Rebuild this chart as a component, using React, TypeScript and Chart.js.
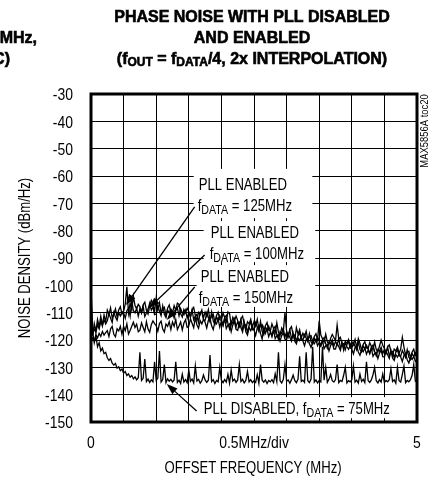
import React, { useEffect, useRef } from 'react';
import { Chart, registerables } from 'chart.js';

Chart.register(...registerables);

// ---- data ----
const FREQ_STEP_MHZ = 0.025; // sample spacing of the traces (MHz)
const X_MIN = 0;
const X_MAX = 5;
const X_STEP = 0.5;
const Y_MIN = -150;
const Y_MAX = -30;
const Y_STEP = 10;
const X_TICK_TEXT: Record<string, string> = { '0': '0', '2.5': '0.5MHz/div', '5': '5' };

const TITLE_LINE_1 = 'PHASE NOISE WITH PLL DISABLED';
const TITLE_LINE_2 = 'AND ENABLED';
const TITLE_LINE_3: [string, boolean][] = [['(f', false], ['OUT', true], [' = f', false], ['DATA', true], ['/4, 2x INTERPOLATION)', false]];
const NEIGHBOR_TEXT_1 = 'MHz,';
const NEIGHBOR_TEXT_2 = 'C)';
const X_TITLE = 'OFFSET FREQUENCY (MHz)';
const Y_TITLE = 'NOISE DENSITY (dBm/Hz)';
const SIDE_TAG = 'MAX5856A toc20';

// PLL disabled, fDATA = 75MHz
const PLL_DISABLED_75 = [
  -101, -117, -121, -118.5, -122.5, -121, -124, -123, -125, -124.5,
  -126.5, -127.5, -126.8, -128.5, -129.2, -128.6, -130.3, -129.8, -131.2, -130.6,
  -132.2, -131.5, -133, -132.4, -133.6, -133, -134.2, -133.5, -134.6, -133.8,
  -124.5, -134.8, -134, -127, -135.2, -134.3, -135.5, -134.6, -135.3, -128,
  -134.8, -133.9, -124, -135.4, -134.5, -129, -135.6, -134.2, -135.1, -134.4,
  -135.3, -134.6, -128, -135.5, -134.7, -135.9, -132.5, -135.4, -134.5, -135.6,
  -131, -135.1, -134.3, -135.7, -129.5, -135, -134.4, -135.8, -134.9, -132.8,
  -134.6, -135.5, -134.7, -125.5, -135.2, -134.5, -135.9, -134.8, -135.3, -130,
  -134.7, -135.6, -134.5, -135.4, -132.6, -135.8, -131, -135, -134.3, -135.5,
  -134.6, -129, -135.2, -134.4, -135.7, -134.8, -131.5, -135.3, -134.5, -135.6,
  -134.9, -135.5, -132.7, -135.8, -129, -134.7, -135.4, -134.6, -135.9, -134.8,
  -135.3, -134.5, -135.6, -132.4, -135.2, -124.5, -134.9, -135.7, -134.4, -129,
  -135.1, -134.6, -135.8, -134.5, -132.8, -134.8, -135.6, -134.4, -126, -135.2,
  -134.7, -135.5, -124.5, -134.9, -135.6, -134.3, -122.5, -135.4, -134.6, -135.7,
  -134.8, -135.3, -122.5, -134.7, -130, -135.5, -134.4, -132.6, -134.9, -135.4,
  -134.5, -129, -135.6, -134.8, -135.2, -132.9, -130, -135.7, -134.9, -135.3,
  -134.5, -129.5, -135.4, -134.7, -135.8, -132.5, -135.2, -134.4, -135.6, -128,
  -134.8, -135.5, -134.6, -132.7, -130, -134.9, -135.7, -134.5, -135.4, -132.4,
  -135.6, -134.8, -135.3, -134.5, -130.5, -135.2, -134.6, -135.8, -130, -134.9,
  -135.4, -132.6, -129.5, -135.6, -134.8, -135.3, -134.5, -132.9, -129, -135.1,
  -134.6,
];

// PLL enabled, fDATA = 125MHz
const PLL_ENABLED_125 = [
  -104, -118.5, -114, -116.8, -112.5, -115.2, -111.3, -114.6, -110.8, -113.4,
  -109.1, -110.7, -108.2, -111.9, -110.6, -108.6, -111.5, -109, -107.8, -110.6,
  -109.6, -106.9, -100.5, -110.2, -106.5, -109, -104, -107.4, -108.6, -107,
  -107.8, -109.9, -107.1, -106.2, -109.1, -110.5, -107.6, -105.5, -106.7, -109.6,
  -104.5, -108.9, -106.4, -110.1, -108.8, -108, -110.9, -108.4, -107.2, -110,
  -110.1, -107.4, -109.1, -106.5, -107, -110.4, -111.6, -108.8, -110, -108.4,
  -109.7, -111.8, -109, -108.1, -111, -112.8, -109.9, -110.7, -109, -111.9,
  -109.8, -111.4, -108.9, -112.6, -111.3, -110.6, -113.5, -111, -109.8, -112.6,
  -112.8, -110.1, -111.8, -113.4, -109.7, -110.3, -114.5, -111.7, -112.9, -111.3,
  -112.9, -115, -112.2, -111.3, -114.2, -116.2, -113.3, -114.1, -112.4, -115.3,
  -113.3, -114.9, -112.4, -116.1, -114.8, -114.4, -117.3, -114.8, -113.6, -116.4,
  -116.8, -114.1, -115.8, -117.4, -113.7, -117.2, -118.4, -115.6, -116.8, -110,
  -116.7, -118.8, -116, -115.1, -118, -120, -115.5, -117.9, -116.2, -119.1,
  -117.5, -118.8, -116.8, -119.8, -118.7, -118.4, -120.7, -118.7, -117.7, -120,
  -113, -118.2, -119.5, -120.8, -117.9, -120.7, -121.6, -119.4, -118, -119.1,
  -120.3, -114.5, -119.7, -119, -121.3, -122.9, -120.5, -121.2, -119.8, -122.1,
  -120.5, -121.8, -119.8, -122.8, -119.5, -121.3, -123.6, -121.6, -120.6, -122.9,
  -123.1, -121, -122.3, -123.6, -120.7, -123.5, -124.4, -122.2, -120, -121.9,
  -123.1, -124.8, -122.5, -121.8, -124.1, -125.7, -123.3, -124, -122.6, -124.9,
  -123.3, -119, -122.6, -125.6, -124.5, -124.1, -126.4, -124.4, -123.4, -125.7,
  -125.2,
];

// PLL enabled, fDATA = 100MHz
const PLL_ENABLED_100 = [
  -119, -117.8, -116, -117.2, -114.4, -115.9, -113.2, -114.8, -112.6, -114.1,
  -113, -110.3, -112, -113.6, -109.9, -111.6, -112.8, -110, -111.2, -109.6,
  -110, -112.1, -109.3, -108.4, -111.3, -105.5, -109.3, -110.1, -108.4, -111.3,
  -108.6, -110.2, -107.7, -111.4, -110.1, -108.7, -106.5, -109.1, -107.9, -110.7,
  -110.5, -107.8, -109.5, -111.1, -107.5, -110.6, -111.8, -109, -110.2, -108.6,
  -109.9, -112, -109.2, -108.3, -111.2, -108.5, -110, -110.8, -109.1, -112,
  -109.8, -111.4, -108.9, -112.6, -111.3, -110.6, -113.5, -109.8, -109.8, -112.6,
  -112.8, -110.1, -111.8, -113.4, -109.7, -113.1, -114.3, -111.5, -112.7, -111.1,
  -112.6, -114.7, -111.9, -111, -113.9, -116, -113.1, -113.9, -112.2, -115.1,
  -113.3, -114.9, -112.4, -116.1, -114.8, -114.3, -117.2, -114.7, -113.5, -116.3,
  -116.3, -113.6, -115.3, -116.9, -113.2, -116.9, -118.1, -115.3, -116.5, -114.9,
  -116.6, -118.7, -115.9, -115, -117.9, -119.8, -116.9, -117.7, -116, -118.9,
  -117.1, -118.4, -116.4, -119.4, -118.3, -118.1, -120.4, -118.4, -117.4, -119.7,
  -120.1, -118, -119.3, -120.6, -117.7, -120.6, -121.5, -119.3, -120.3, -119,
  -120.4, -122.1, -119.8, -119.1, -121.4, -123, -120.6, -121.3, -119.9, -122.2,
  -120.5, -121.8, -119.5, -122.8, -121.7, -121.3, -123.6, -121.6, -120.6, -122.9,
  -123.1, -121, -122.3, -123.6, -120.7, -123.5, -124.4, -122.2, -123.2, -121.9,
  -123.2, -124.9, -122.6, -121.9, -124.2, -125.8, -123.4, -124.1, -122.7, -125,
  -123.4, -124.7, -122.7, -125.7, -124.6, -124.2, -126.5, -124.5, -123.5, -125.8,
  -125.9, -123.8, -125.1, -126.4, -123.5, -126.3, -127.2, -125, -126, -124.7,
  -126.3,
];

// PLL enabled, fDATA = 150MHz
const PLL_ENABLED_150 = [
  -121, -119.3, -120.4, -118.1, -119.2, -117.6, -118.7, -116.9, -118.2, -117.3,
  -116.6, -118.7, -115.9, -115, -117.9, -118.8, -115.9, -116.7, -115, -117.9,
  -115, -116.6, -114.1, -117.8, -116.5, -115, -113.5, -115.4, -114.2, -117,
  -116.4, -113.7, -115.4, -117, -113.3, -116, -117.2, -114.4, -113, -114,
  -114.7, -116.8, -114, -113.1, -116, -117.1, -114.2, -115, -113.3, -116.2,
  -113.4, -115, -112.5, -116.2, -114.9, -113.4, -116.3, -113.8, -112.6, -115.4,
  -114.9, -112.2, -113.9, -115.5, -111.8, -114.5, -115.7, -112.9, -114.1, -112.5,
  -113.5, -115.6, -112.8, -111.9, -114.8, -116.2, -113.3, -114.1, -112.4, -115.3,
  -113, -114.6, -112.1, -115.8, -114.5, -114.1, -117, -114.5, -113.3, -116.1,
  -116.5, -113.8, -115.5, -117.1, -113.4, -117, -118.2, -115.4, -116.6, -115,
  -116.3, -118.4, -115.6, -114.7, -117.6, -119.7, -115.5, -117.6, -115.9, -118.8,
  -117.2, -118.5, -116.5, -119.5, -118.4, -118.1, -120.4, -118.4, -117.4, -119.7,
  -119.9, -117.8, -119.1, -120.4, -117.5, -120.4, -121.4, -119.2, -120.2, -118.9,
  -120.4, -122.1, -119.8, -119.1, -121.4, -122.7, -120.7, -121.4, -120, -122.1,
  -120.9, -122.2, -120.2, -123.2, -122.1, -121.7, -124, -122, -121, -123.3,
  -123.3, -121.2, -122.5, -123.8, -120.9, -123.7, -121, -122.4, -123.4, -122.1,
  -123.4, -125.1, -122.8, -122.1, -124.4, -125.6, -123.6, -124.3, -122.9, -125.2,
  -123.7, -125, -123, -126, -124.9, -124.5, -126.8, -124.8, -123.8, -126.1,
  -126.2, -124.1, -125.4, -126.7, -123.8, -126.6, -127.5, -125.3, -126.3, -125,
  -126.2, -127.9, -125.6, -124.9, -127.2, -128.4, -126.5, -127.1, -126, -127.8,
  -127.3,
];

// annotation text [f(MHz), dB] anchor (left, baseline) and parts [text, isSubscript]
const LABELS: { at: [number, number]; parts: [string, boolean][] }[] = [
  { at: [1.651, -65.3], parts: [['PLL ENABLED', false]] },
  { at: [1.636, -72.8], parts: [['f', false], ['DATA', true], [' = 125MHz', false]] },
  { at: [1.835, -82.7], parts: [['PLL ENABLED', false]] },
  { at: [1.82, -90.4], parts: [['f', false], ['DATA', true], [' = 100MHz', false]] },
  { at: [1.682, -98.8], parts: [['PLL ENABLED', false]] },
  { at: [1.651, -106.5], parts: [['f', false], ['DATA', true], [' = 150MHz', false]] },
  { at: [1.728, -147.1], parts: [['PLL DISABLED, f', false], ['DATA', true], [' = 75MHz', false]] },
];
// white label backgrounds [f0, f1, dB0, dB1]
const KNOCKOUTS: [number, number, number, number][] = [
  [1.575, 3.394, -57.4, -75.4],
  [1.728, 3.44, -76.5, -91.5],
  [1.621, 3.44, -92.6, -107.9],
  [1.682, 4.832, -140.9, -148.6],
];
// arrows [fromF, fromDb, toF, toDb]
const ARROWS: [number, number, number, number][] = [
  [1.59, -71.3, 0.535, -107.2],
  [1.743, -88.9, 0.887, -108.3],
  [1.59, -100.6, 1.162, -112.7],
  [1.62, -146, 1.162, -136.1],
];

const SANS = '"Liberation Sans", Arial, sans-serif';
const NARROW_SCALE = 0.82; // horizontal squeeze to mimic a narrow face

function toPoints(values: number[]) {
  return values.map((v, i) => ({ x: i * FREQ_STEP_MHZ, y: v }));
}

function narrowText(ctx: CanvasRenderingContext2D, text: string, x: number, y: number, size: number, align: CanvasTextAlign, baseline: CanvasTextBaseline, rotate = 0) {
  ctx.save();
  ctx.translate(x, y);
  if (rotate) ctx.rotate(rotate);
  ctx.scale(NARROW_SCALE, 1);
  ctx.font = `${size}px ${SANS}`;
  ctx.textAlign = align;
  ctx.textBaseline = baseline;
  ctx.fillText(text, 0, 0);
  ctx.restore();
}

function drawRich(ctx: CanvasRenderingContext2D, x: number, y: number, parts: [string, boolean][], main: string, sub: string, subDy: number, align: 'left' | 'center', bold: boolean, squeeze: number) {
  ctx.save();
  ctx.translate(x, y);
  ctx.scale(squeeze, 1);
  let total = 0;
  for (const [t, s] of parts) {
    ctx.font = s ? sub : main;
    total += ctx.measureText(t).width;
  }
  let cx = align === 'center' ? -total / 2 : 0;
  ctx.textAlign = 'left';
  ctx.textBaseline = 'alphabetic';
  for (const [t, s] of parts) {
    ctx.font = s ? sub : main;
    const yy = s ? subDy : 0;
    ctx.fillText(t, cx, yy);
    if (bold) ctx.strokeText(t, cx, yy);
    cx += ctx.measureText(t).width;
  }
  ctx.restore();
}

const decorPlugin = {
  id: 'decor',
  beforeDatasetsDraw(chart: any) {
    const { ctx, scales } = chart;
    const xs = scales.x, ys = scales.y;
    ctx.save();
    ctx.fillStyle = '#fff';
    for (const [f0, f1, d0, d1] of KNOCKOUTS) {
      const x0 = xs.getPixelForValue(f0), x1 = xs.getPixelForValue(f1);
      const y0 = ys.getPixelForValue(d0), y1 = ys.getPixelForValue(d1);
      ctx.fillRect(x0, y0, x1 - x0, y1 - y0);
    }
    ctx.restore();
  },
  afterDatasetsDraw(chart: any) {
    const { ctx, scales, chartArea } = chart;
    const xs = scales.x, ys = scales.y;
    ctx.save();
    // frame
    ctx.strokeStyle = '#000';
    ctx.lineWidth = 3;
    ctx.strokeRect(chartArea.left, chartArea.top, chartArea.right - chartArea.left, chartArea.bottom - chartArea.top);
    ctx.fillStyle = '#000';
    // tick labels from the scales
    for (const t of ys.ticks) {
      narrowText(ctx, String(t.value), chartArea.left - 18, ys.getPixelForValue(t.value) + 1.5, 17, 'right', 'middle');
    }
    for (const t of xs.ticks) {
      const key = String(Math.round(Number(t.value) * 10) / 10);
      const txt = X_TICK_TEXT[key];
      if (txt) narrowText(ctx, txt, xs.getPixelForValue(t.value), chartArea.bottom + 21, 17, 'center', 'middle');
    }
    // axis titles
    narrowText(ctx, X_TITLE, (chartArea.left + chartArea.right) / 2 - 1, chartArea.bottom + 47, 16, 'center', 'middle');
    narrowText(ctx, Y_TITLE, 26, (chartArea.top + chartArea.bottom) / 2, 16, 'center', 'middle', -Math.PI / 2);
    // labels
    for (const l of LABELS) {
      drawRich(ctx, xs.getPixelForValue(l.at[0]), ys.getPixelForValue(l.at[1]), l.parts, `16px ${SANS}`, `13px ${SANS}`, 3, 'left', false, NARROW_SCALE);
    }
    // arrows
    ctx.lineWidth = 1.3;
    for (const [f0, d0, f1, d1] of ARROWS) {
      const x0 = xs.getPixelForValue(f0), y0 = ys.getPixelForValue(d0);
      const x1 = xs.getPixelForValue(f1), y1 = ys.getPixelForValue(d1);
      const a = Math.atan2(y1 - y0, x1 - x0);
      const len = 11, hw = 3.8;
      const bx = x1 - len * Math.cos(a), by = y1 - len * Math.sin(a);
      ctx.beginPath();
      ctx.moveTo(x0, y0);
      ctx.lineTo(bx, by);
      ctx.stroke();
      ctx.beginPath();
      ctx.moveTo(x1, y1);
      ctx.lineTo(bx + hw * Math.sin(a), by - hw * Math.cos(a));
      ctx.lineTo(bx - hw * Math.sin(a), by + hw * Math.cos(a));
      ctx.closePath();
      ctx.fill();
    }
    // side tag
    narrowText(ctx, SIDE_TAG, chartArea.right + 8, chartArea.top + 37, 11.5, 'center', 'middle', -Math.PI / 2);
    // title
    const cx = (chartArea.left + chartArea.right) / 2 - 2;
    ctx.strokeStyle = '#000';
    ctx.lineWidth = 0.6;
    const mainF = `bold 16px ${SANS}`;
    const subF = `bold 12px ${SANS}`;
    drawRich(ctx, cx, 22, [[TITLE_LINE_1, false]], mainF, subF, 2, 'center', true, 1);
    drawRich(ctx, cx, 43, [[TITLE_LINE_2, false]], mainF, subF, 2, 'center', true, 1);
    drawRich(ctx, cx, 63.5, TITLE_LINE_3, mainF, subF, 2, 'center', true, 1);
    // cut-off text of the neighbouring chart
    ctx.font = mainF;
    ctx.textAlign = 'right';
    ctx.textBaseline = 'alphabetic';
    ctx.fillText(NEIGHBOR_TEXT_1, 37, 43);
    ctx.strokeText(NEIGHBOR_TEXT_1, 37, 43);
    ctx.fillText(NEIGHBOR_TEXT_2, 10, 63.5);
    ctx.strokeText(NEIGHBOR_TEXT_2, 10, 63.5);
    ctx.restore();
  },
};

export default function App() {
  const ref = useRef<HTMLCanvasElement>(null);
  useEffect(() => {
    if (!ref.current) return;
    const line = (data: number[]) => ({
      data: toPoints(data),
      borderColor: '#000',
      backgroundColor: '#000',
      borderWidth: 1.3,
      pointRadius: 0,
      tension: 0,
      fill: false,
    });
    const chart = new Chart(ref.current, {
      type: 'line',
      data: {
        datasets: [
          { label: 'PLL DISABLED, fDATA = 75MHz', ...line(PLL_DISABLED_75) },
          { label: 'PLL ENABLED, fDATA = 150MHz', ...line(PLL_ENABLED_150) },
          { label: 'PLL ENABLED, fDATA = 100MHz', ...line(PLL_ENABLED_100) },
          { label: 'PLL ENABLED, fDATA = 125MHz', ...line(PLL_ENABLED_125) },
        ],
      },
      options: {
        responsive: false,
        animation: false,
        events: [],
        layout: { padding: { top: 94, right: 17, left: 0, bottom: 0 } },
        plugins: { legend: { display: false }, tooltip: { enabled: false }, title: { display: false } },
        scales: {
          x: {
            type: 'linear',
            min: X_MIN,
            max: X_MAX,
            afterFit: (s: any) => { s.height = 57; },
            grid: { color: '#000', lineWidth: 1, drawTicks: false },
            border: { display: false },
            ticks: { stepSize: X_STEP, autoSkip: false, display: false },
          },
          y: {
            type: 'linear',
            min: Y_MIN,
            max: Y_MAX,
            afterFit: (s: any) => { s.width = 91; },
            grid: { color: '#000', lineWidth: 1, drawTicks: false },
            border: { display: false },
            ticks: { stepSize: Y_STEP, display: false },
          },
        },
      },
      plugins: [decorPlugin],
    } as any);
    return () => chart.destroy();
  }, []);
  return (
    <div style={{ position: 'absolute', left: 0, top: 0, width: 434, height: 479, background: '#fff' }}>
      <canvas ref={ref} width={434} height={479} style={{ display: 'block' }} />
    </div>
  );
}
